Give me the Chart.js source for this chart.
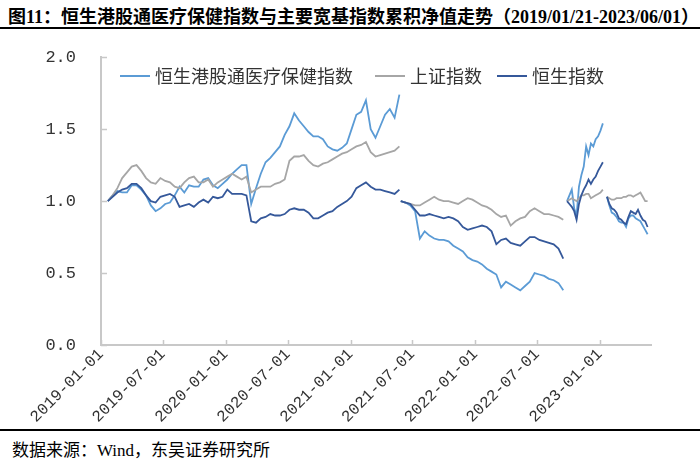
<!DOCTYPE html>
<html>
<head>
<meta charset="utf-8">
<script src="https://cdn.jsdelivr.net/npm/chart.js@4.4.0/dist/chart.umd.min.js"></script>
<style>
  body { margin: 0; background: #fff; }
  #page { position: relative; width: 700px; height: 460px; overflow: hidden; font-family: "Liberation Serif", "Noto Sans CJK SC", serif; }
  #title { position: absolute; left: 8px; top: 2px; font-size: 18px; font-weight: bold; color: #000; white-space: nowrap; }
  .rule { position: absolute; left: 0; width: 700px; background: #000; }
  #box { position: absolute; left: 0; top: 30px; width: 700px; height: 398px; }
  #source { position: absolute; left: 12px; top: 436px; font-size: 17px; color: #000; white-space: nowrap; }
  .lg { position: absolute; top: 65px; font-size: 18px; color: #333; white-space: nowrap; font-family: "Noto Sans CJK SC", sans-serif; line-height: 20px; }
  .lgline { position: absolute; top: 75px; width: 30px; height: 2px; }
</style>
</head>
<body>
<div id="page">
  <div id="title">图11：恒生港股通医疗保健指数与主要宽基指数累积净值走势（2019/01/21-2023/06/01）</div>
  <div class="rule" style="top:27px;height:2px"></div>
  <div id="box"><canvas id="chart"></canvas></div>
  <div class="lgline" style="left:120px;background:#5b9bd5"></div>
  <div class="lg" style="left:155px">恒生港股通医疗保健指数</div>
  <div class="lgline" style="left:375px;background:#a6a6a6"></div>
  <div class="lg" style="left:410px">上证指数</div>
  <div class="lgline" style="left:497px;background:#35589a"></div>
  <div class="lg" style="left:532px">恒生指数</div>
  <div class="rule" style="top:429px;height:2px"></div>
  <div id="source">数据来源：Wind，东吴证券研究所</div>
</div>
<script>
// segments of the series (the source chart has breaks between them)
const segStarts = ['2019-01-21', '2021-05-28', '2022-09-27', '2023-01-22'];
const segSteps = [14, 14, 7, 7]; // days between points

// 恒生港股通医疗保健指数
const hc1 = [1.00,1.04,1.07,1.06,1.06,1.11,1.11,1.08,1.04,0.97, 0.93,0.95,0.98,0.99,1.04,1.10,1.06,1.11,1.10,1.10,
  1.15,1.16,1.11,1.09,1.12,1.15,1.19,1.22,1.25,1.25, 0.98,1.09,1.19,1.27,1.30,1.34,1.38,1.46,1.52,1.61,
  1.56,1.52,1.48,1.45,1.45,1.43,1.38,1.36,1.35,1.37, 1.40,1.50,1.60,1.62,1.70,1.50,1.44,1.52,1.60,1.64, 1.58,1.74];
const hc2 = [1.00,0.99,0.97,0.93,0.74,0.79,0.76,0.74,0.73,0.73, 0.72,0.69,0.67,0.65,0.61,0.59,0.58,0.56,0.53,0.51,
  0.49,0.40,0.44,0.42,0.40,0.38,0.41,0.44,0.50,0.49, 0.48,0.46,0.45,0.43,0.38];
const hc3 = [1.00,1.04,1.08,0.95,0.90,1.10,1.18,1.24,1.38,1.32,1.40,1.38,1.43,1.45,1.49,1.54];
const hc4 = [1.03,0.97,0.92,0.91,0.89,0.86,0.85,0.85,0.82,0.88,0.90,0.90,0.88,0.87,0.86,0.83,0.80,0.77];

// 上证指数
const sh1 = [1.00,1.04,1.09,1.16,1.20,1.24,1.25,1.21,1.16,1.13, 1.12,1.16,1.14,1.13,1.10,1.09,1.13,1.16,1.17,1.13,
  1.13,1.15,1.10,1.13,1.15,1.17,1.19,1.17,1.15,1.17, 1.06,1.08,1.10,1.10,1.10,1.12,1.13,1.15,1.28,1.31,
  1.31,1.32,1.28,1.25,1.24,1.26,1.27,1.29,1.31,1.33, 1.34,1.36,1.38,1.39,1.41,1.34,1.31,1.32,1.33,1.34, 1.35,1.38];
const sh2 = [1.00,0.99,0.98,0.97,0.97,0.99,1.01,1.03,1.01,1.00, 1.00,0.99,0.98,1.00,1.02,1.01,0.99,0.97,0.96,0.94,
  0.91,0.89,0.90,0.83,0.86,0.88,0.89,0.93,0.95,0.93, 0.91,0.91,0.90,0.89,0.87];
const sh3 = [1.00,1.01,1.02,1.01,1.00,1.02,1.04,1.04,1.05,1.05,1.02,1.03,1.04,1.05,1.06,1.08];
const sh4 = [1.03,1.02,1.01,1.01,1.02,1.02,1.02,1.03,1.03,1.04,1.04,1.03,1.04,1.05,1.06,1.03,1.00,1.00];

// 恒生指数
const hs1 = [1.00,1.03,1.06,1.08,1.09,1.12,1.12,1.09,1.04,1.00, 0.99,1.03,1.04,1.05,1.03,0.96,0.97,0.98,0.96,0.99,
  1.01,0.99,1.03,1.02,1.03,1.08,1.05,1.05,1.05,1.04, 0.86,0.85,0.88,0.89,0.91,0.90,0.90,0.91,0.94,0.95,
  0.94,0.94,0.92,0.88,0.88,0.90,0.92,0.93,0.96,0.98, 1.00,1.03,1.09,1.11,1.13,1.10,1.08,1.08,1.07,1.06, 1.05,1.08];
const hs2 = [1.00,0.99,0.98,0.94,0.90,0.90,0.91,0.90,0.89,0.88, 0.89,0.88,0.86,0.82,0.80,0.81,0.82,0.83,0.82,0.79,
  0.70,0.73,0.74,0.71,0.70,0.69,0.72,0.75,0.75,0.73, 0.72,0.71,0.70,0.67,0.60];
const hs3 = [1.00,0.98,0.96,0.93,0.87,0.98,1.04,1.08,1.11,1.15,1.12,1.15,1.17,1.21,1.24,1.27];
const hs4 = [1.03,0.98,0.95,0.94,0.92,0.88,0.87,0.85,0.84,0.89,0.93,0.92,0.91,0.94,0.90,0.87,0.86,0.82];

const seriesNames = ['恒生港股通医疗保健指数', '上证指数', '恒生指数'];
const xTickDates = ['2019-01-01','2019-07-01','2020-01-01','2020-07-01','2021-01-01',
  '2021-07-01','2022-01-01','2022-07-01','2023-01-01'];
const yTicks = [0, 0.5, 1.0, 1.5, 2.0];
const xMin = '2019-01-01', xMax = '2023-05-31';

const DAY = 86400000;

function buildSeries(parts) {
  const pts = [];
  parts.forEach((vals, s) => {
    const t0 = Date.parse(segStarts[s]);
    if (s > 0) pts.push({ x: t0 - DAY, y: null }); // break between segments
    vals.forEach((v, i) => pts.push({ x: t0 + i * segSteps[s] * DAY, y: v }));
  });
  return pts;
}

// small inward tick marks like the original
const innerTicks = {
  id: 'innerTicks',
  afterDraw(chart) {
    const ctx = chart.ctx, a = chart.chartArea;
    const xs = chart.scales.x, ys = chart.scales.y;
    ctx.save();
    ctx.strokeStyle = '#c8c8c8';
    ctx.lineWidth = 1.5;
    ctx.beginPath();
    yTicks.forEach(v => {
      const y = Math.round(ys.getPixelForValue(v)) + 0.5;
      ctx.moveTo(a.left, y); ctx.lineTo(a.left + 6, y);
    });
    xTickDates.forEach(d => {
      const x = Math.round(xs.getPixelForValue(Date.parse(d))) + 0.5;
      ctx.moveTo(x, a.bottom); ctx.lineTo(x, a.bottom - 5);
    });
    ctx.stroke();
    ctx.restore();
  }
};

const tickFont = { family: '"Liberation Mono", monospace', size: 16 };

new Chart(document.getElementById('chart'), {
  type: 'line',
  data: {
    datasets: [
      { label: seriesNames[0], data: buildSeries([hc1, hc2, hc3, hc4]), borderColor: '#5b9bd5', order: 3 },
      { label: seriesNames[1], data: buildSeries([sh1, sh2, sh3, sh4]), borderColor: '#a6a6a6', order: 2 },
      { label: seriesNames[2], data: buildSeries([hs1, hs2, hs3, hs4]), borderColor: '#35589a', order: 1 }
    ]
  },
  options: {
    responsive: true,
    maintainAspectRatio: false,
    animation: false,
    spanGaps: false,
    layout: { padding: { top: 16, right: 49, left: 0, bottom: 0 } },
    elements: {
      point: { radius: 0 },
      line: { borderWidth: 1.8, tension: 0 }
    },
    plugins: { legend: { display: false }, tooltip: { enabled: false } },
    scales: {
      x: {
        type: 'linear',
        min: Date.parse(xMin),
        max: Date.parse(xMax),
        afterBuildTicks: scale => { scale.ticks = xTickDates.map(d => ({ value: Date.parse(d) })); },
        afterFit: scale => { scale.height = 83; },
        grid: { display: false },
        border: { color: '#c8c8c8', width: 2 },
        ticks: {
          autoSkip: false,
          maxRotation: 45,
          minRotation: 45,
          padding: -8,
          color: '#333',
          font: tickFont,
          callback: v => new Date(v).toISOString().slice(0, 10)
        }
      },
      y: {
        min: 0,
        max: 2,
        afterBuildTicks: scale => { scale.ticks = yTicks.map(v => ({ value: v })); },
        afterFit: scale => { scale.width = 101; },
        grid: { display: false },
        border: { color: '#c8c8c8', width: 2 },
        ticks: {
          padding: 17,
          color: '#333',
          font: { family: '"Liberation Mono", monospace', size: 17 },
          callback: v => v.toFixed(1)
        }
      }
    }
  },
  plugins: [innerTicks]
});
</script>
</body>
</html>
